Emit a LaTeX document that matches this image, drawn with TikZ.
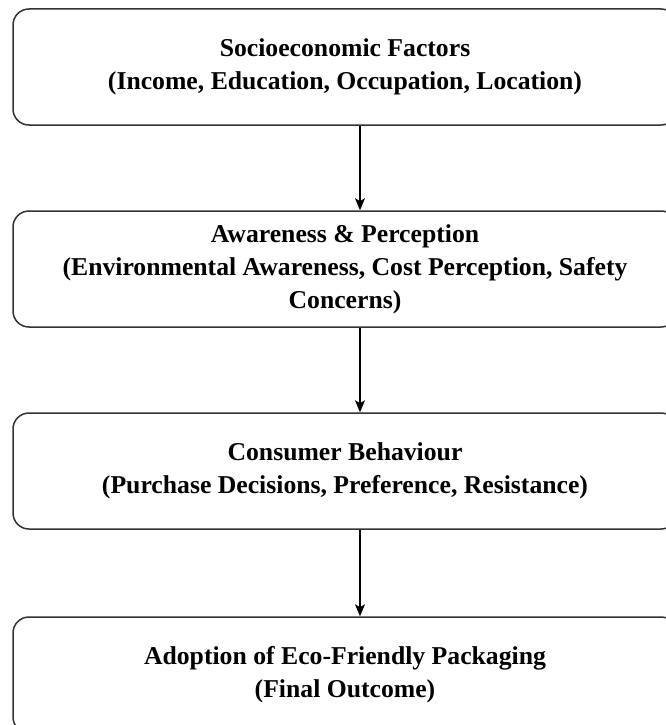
\documentclass[tikz,border=0pt]{standalone}
\usepackage{fontspec}
\setmainfont{Liberation Serif}
\usetikzlibrary{arrows.meta}
\tikzset{
	factorbox/.style={draw=black!80, line width=1.5pt, rounded corners=16pt,
		minimum width=664pt, minimum height=116pt, inner sep=0pt, align=center,
		font=\fontsize{25.7}{33}\selectfont\bfseries},
	flowarrow/.style={-{Stealth[length=12pt,width=10pt,inset=3pt]}, line width=1.2pt}
}
\begin{document}
\begin{tikzpicture}[x=1pt, y=-1pt]
			%%%%% START %%%%%
			
			\useasboundingbox (0, 0) rectangle (665, 725);
			
			\node[factorbox] (socio) at (345, 67) {Socioeconomic Factors\\(Income, Education, Occupation, Location)};
			\node[factorbox] (aware) at (345, 269) {Awareness \& Perception\\(Environmental Awareness, Cost Perception, Safety\\Concerns)};
			\node[factorbox] (behav) at (345, 471) {Consumer Behaviour\\(Purchase Decisions, Preference, Resistance)};
			\node[factorbox] (adopt) at (345, 675) {Adoption of Eco-Friendly Packaging\\(Final Outcome)};
			
			\draw[flowarrow] ([xshift=15pt]socio.south) -- ([xshift=15pt]aware.north);
			\draw[flowarrow] ([xshift=15pt]aware.south) -- ([xshift=15pt]behav.north);
			\draw[flowarrow] ([xshift=15pt]behav.south) -- ([xshift=15pt]adopt.north);
			
			%%%%% END %%%%%
\end{tikzpicture}
\end{document}
